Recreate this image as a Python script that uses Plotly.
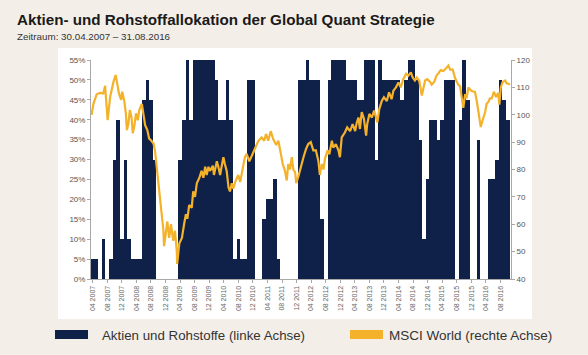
import plotly.graph_objects as go

# ---------------- data ----------------
# month index since 04/2007 (0 = April 2007)
months = list(range(115))

# Aktien- und Rohstoffallokation in % (left axis)
alloc = [5, 5, 0, 10, 0, 5, 30, 40, 10, 30,
         10, 5, 5, 5, 45, 50, 45, 30, 0, 0,
         0, 0, 0, 0, 30, 40, 55, 40, 55, 55,
         55, 55, 55, 55, 50, 40, 40, 50, 40, 5,
         10, 5, 5, 50, 50, 0, 0, 15, 20, 20,
         25, 5, 0, 0, 0, 0, 0, 50, 50, 55,
         50, 50, 50, 15, 0, 50, 55, 55, 55, 55,
         50, 50, 50, 45, 45, 55, 55, 55, 30, 55,
         50, 50, 50, 50, 50, 45, 50, 55, 55, 50,
         35, 10, 25, 40, 40, 35, 40, 50, 50, 50,
         0, 40, 55, 45, 0, 0, 35, 0, 0, 25,
         25, 30, 50, 45, 40]

# MSCI World (right axis): time in months since 04/2007, index value
msci_t = [-0.3, 0.2, 1.1, 2.0, 2.9, 3.4, 4.1, 4.5, 4.8, 5.7,
          6.3, 6.9, 7.2, 7.8, 8.1, 8.7, 9.1, 9.4, 9.8, 10.2,
          10.7, 11.0, 11.4, 11.9, 12.4, 12.8, 13.5, 13.9, 14.4, 15.0,
          15.5, 16.0, 16.7, 17.1, 17.6, 18.0, 18.5, 19.0, 19.4, 19.6,
          20.1, 20.5, 21.0, 21.5, 22.1, 22.6, 23.1, 23.2, 23.8, 24.5,
          25.1, 25.6, 26.0, 26.5, 27.2, 27.6, 28.1, 28.6, 29.3, 29.9,
          30.4, 30.9, 31.3, 31.8, 32.2, 33.0, 33.3, 34.1, 34.5, 35.0,
          35.4, 35.9, 36.3, 36.8, 37.3, 37.7, 38.2, 38.6, 39.3, 40.0,
          40.5, 41.2, 41.8, 42.3, 43.0, 43.7, 44.6, 45.5, 46.4, 47.1,
          47.6, 48.2, 48.9, 49.6, 50.4, 51.0, 51.5, 52.2, 52.8, 53.3,
          53.7, 54.2, 54.7, 55.1, 55.6, 55.9, 56.5, 57.1, 57.9, 58.6,
          59.2, 59.9, 60.6, 61.3, 62.0, 62.4, 62.9, 63.4, 63.8, 64.5,
          65.0, 65.7, 66.1, 66.8, 67.5, 67.9, 68.4, 69.3, 69.9, 70.7,
          71.4, 72.1, 72.5, 73.0, 73.4, 73.9, 74.5, 75.1, 75.4, 76.0,
          76.7, 77.3, 77.8, 78.2, 78.7, 79.4, 80.0, 80.8, 81.4, 82.1,
          82.6, 83.3, 84.0, 84.6, 85.3, 86.1, 86.7, 87.4, 87.9, 88.5,
          89.0, 89.7, 90.4, 90.8, 91.3, 91.9, 92.7, 93.1, 93.8, 94.5,
          94.9, 95.6, 96.3, 97.1, 97.7, 98.2, 98.9, 99.5, 100.0, 100.4,
          100.9, 101.4, 101.8, 102.3, 102.7, 103.2, 103.8, 104.4, 105.0, 105.5,
          105.9, 106.2, 106.6, 107.1, 107.8, 108.2, 108.7, 109.1, 109.6, 110.2,
          110.8, 111.4, 111.7, 112.1, 112.6, 113.3, 113.7, 114.2, 114.6]

msci_v = [100, 104, 107.5, 108, 107.8, 110.6, 98, 103, 106.6, 112,
          114.5, 110.2, 107.8, 105.4, 108.4, 104.8, 100.5, 94.4, 96.8, 101.7,
          98.7, 93.2, 95.6, 100.5, 98, 101.7, 104, 100.5, 96.2, 94.4,
          91.3, 90.7, 89.5, 87, 81, 75, 68.9, 64, 58, 52,
          57.6, 61, 55, 60, 54, 57.6, 50, 45.5, 53, 55,
          60, 63.7, 62, 67, 66, 72, 70, 75, 77, 79.5,
          77, 81, 78, 81, 79.5, 81.4, 78, 83, 81, 78,
          81, 84.5, 82, 79.5, 73.5, 72, 75, 73, 76, 78,
          75.4, 81, 84.5, 85.7, 83, 85, 88, 90.5, 91.7, 90.5,
          93, 90.5, 94, 91, 89, 90.5, 87, 82, 79.5, 76,
          82, 80, 84.5, 80, 79, 75, 77.5, 81, 84.5, 87.5,
          89.3, 90, 87, 87, 83, 78, 82, 80, 84, 87,
          85.6, 90.5, 88, 89.3, 87, 84.5, 91.7, 93.6, 95.4, 94,
          96.6, 94, 97, 99, 94.8, 101, 98.5, 92.4, 96.6, 100.3,
          99, 101.5, 99, 97.2, 102, 105, 106.4, 105, 108.2, 105.7,
          108.8, 110, 111.8, 110, 113, 115, 114.3, 115.5, 113.6, 112.5,
          113.6, 112.4, 107, 110, 112.5, 113, 112, 111, 112, 114.5,
          115, 116.3, 116, 117, 118, 116.5, 116.5, 113.5, 112, 111,
          110.5, 106, 102.5, 107.5, 106, 110, 109, 108.5, 108.4, 105,
          101, 99.3, 95.5, 98, 101, 104, 104.7, 106, 106, 108.4,
          106.5, 108, 103.7, 110, 112, 112.5, 111.5, 111.3, 111]

tick_pos = list(range(0, 113, 4))
tick_text = ["04 2007", "08 2007", "12 2007",
             "04 2008", "08 2008", "12 2008",
             "04 2009", "08 2009", "12 2009",
             "04 2010", "08 2010", "12 2010",
             "04 2011", "08 2011", "12 2011",
             "04 2012", "08 2012", "12 2012",
             "04 2013", "08 2013", "12 2013",
             "04 2014", "08 2014", "12 2014",
             "04 2015", "08 2015", "12 2015",
             "04 2016", "08 2016"]

left_ticks = [0, 5, 10, 15, 20, 25, 30, 35, 40, 45, 50, 55]
left_labels = ["0%", "5%", "10%", "15%", "20%", "25%", "30%",
               "35%", "40%", "45%", "50%", "55%"]
right_ticks = [40, 50, 60, 70, 80, 90, 100, 110, 120]

title_text = "Aktien- und Rohstoffallokation der Global Quant Strategie"
subtitle_text = "Zeitraum: 30.04.2007 \u2013 31.08.2016"
name_bars = "Aktien und Rohstoffe (linke Achse)"
name_line = "MSCI World (rechte Achse)"

# ---------------- style ----------------
NAVY = "#0f2149"
ORANGE = "#f4b12a"
BEIGE = "#f3efe8"
AXIS = "#a8a8a8"
FONT = "Liberation Sans, Arial, Helvetica, sans-serif"

W, H = 588, 355
ML, MR, MT, MB = 91, 77, 60, 76
PW, PH = W - ML - MR, H - MT - MB


def px(xp):
    return (xp - ML) / PW


def py(yp):
    return (H - MB - yp) / PH


fig = go.Figure()
fig.add_trace(go.Bar(x=months, y=alloc, width=1.0, name=name_bars,
                     marker=dict(color=NAVY, line=dict(width=0)),
                     yaxis="y", showlegend=False))
fig.add_trace(go.Scatter(x=msci_t, y=msci_v, mode="lines", name=name_line,
                         line=dict(color=ORANGE, width=2.2),
                         yaxis="y2", showlegend=False))

fig.update_layout(
    width=W, height=H,
    margin=dict(l=ML, r=MR, t=MT, b=MB, pad=0),
    paper_bgcolor=BEIGE, plot_bgcolor="white",
    font=dict(family=FONT, color="#444444"),
    bargap=0,
    xaxis=dict(range=[-0.47, 114.9], tickmode="array", tickvals=tick_pos,
               ticktext=tick_text, tickangle=-90, showgrid=False,
               zeroline=False, showline=True, linecolor=AXIS, linewidth=1,
               ticks="outside", ticklen=3, tickcolor=AXIS,
               tickfont=dict(size=7, color="#666666")),
    yaxis=dict(range=[0, 55], tickmode="array", tickvals=left_ticks,
               ticktext=left_labels, showgrid=False, zeroline=False,
               showline=True, linecolor=AXIS, linewidth=1,
               ticks="outside", ticklen=3, tickcolor=AXIS,
               tickfont=dict(size=8, color="#555555")),
    yaxis2=dict(range=[40, 120], tickmode="array", tickvals=right_ticks,
                overlaying="y", side="right", showgrid=False,
                zeroline=False, showline=True, linecolor=AXIS, linewidth=1,
                ticks="outside", ticklen=3, tickcolor=AXIS,
                tickfont=dict(size=8, color="#555555")),
    showlegend=False,
)

# white panel behind the chart
fig.add_shape(type="rect", xref="paper", yref="paper",
              x0=px(58), x1=px(532), y0=py(319), y1=py(48),
              fillcolor="white", line=dict(width=0), layer="below")

# legend (drawn manually)
fig.add_shape(type="rect", xref="paper", yref="paper",
              x0=px(55), x1=px(88), y0=py(339), y1=py(330),
              fillcolor=NAVY, line=dict(width=0))
fig.add_shape(type="rect", xref="paper", yref="paper",
              x0=px(350), x1=px(383), y0=py(339), y1=py(330),
              fillcolor=ORANGE, line=dict(width=0))
fig.add_annotation(xref="paper", yref="paper", x=px(100), y=py(335),
                   text=name_bars, showarrow=False, xanchor="left",
                   yanchor="middle", font=dict(size=13.3, color="#333333"))
fig.add_annotation(xref="paper", yref="paper", x=px(387), y=py(335),
                   text=name_line, showarrow=False, xanchor="left",
                   yanchor="middle", font=dict(size=13.5, color="#333333"))

# title and subtitle
fig.add_annotation(xref="paper", yref="paper", x=px(15), y=py(19),
                   text="<b>" + title_text + "</b>", showarrow=False,
                   xanchor="left", yanchor="middle",
                   font=dict(size=15.2, color="#1a1a1a"))
fig.add_annotation(xref="paper", yref="paper", x=px(15), y=py(36),
                   text=subtitle_text, showarrow=False,
                   xanchor="left", yanchor="middle",
                   font=dict(size=9.8, color="#333333"))

fig.write_html("out.html",
               config={"displayModeBar": False, "staticPlot": True},
               post_script="document.body.style.margin='0';"
                           "document.body.style.background='%s';" % BEIGE)
